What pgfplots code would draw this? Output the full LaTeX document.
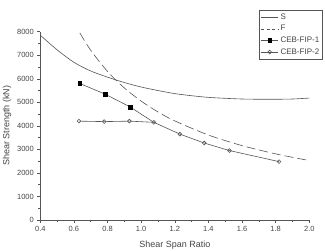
\documentclass[border=0pt]{standalone}
\usepackage{pgfplots}
\pgfplotsset{compat=1.18}
\usepackage{fontspec}
\setmainfont{Liberation Sans}
\definecolor{lc}{HTML}{555555}
\definecolor{tc}{HTML}{444444}
\begin{document}
\begin{tikzpicture}
\useasboundingbox (-40.3pt,-31pt) rectangle (284.7pt,220pt);
\begin{axis}[
  at={(0,0)}, anchor=origin,
  scale only axis, width=269pt, height=188.3pt,
  xmin=0.4, xmax=2.0, ymin=0, ymax=8000,
  axis lines=left, axis line style={-, lc, line width=0.6pt},
  tick align=outside, tick style={lc, line width=0.5pt},
  major tick length=3pt, minor tick length=2pt,
  xtick={0.4,0.6,...,2.0}, minor x tick num=1,
  ytick={0,1000,...,8000}, minor y tick num=1,
  xticklabel style={/pgf/number format/.cd, fixed, fixed zerofill, precision=1},
  yticklabel style={/pgf/number format/.cd, fixed, 1000 sep={}},
  /pgf/number format/assume math mode=true,
  tick label style={font=\fontsize{7.5}{8}\selectfont, text=tc},
  xlabel={Shear Span Ratio}, ylabel={Shear Strength (kN)},
  label style={font=\fontsize{9}{10}\selectfont, text=tc},
  xlabel style={yshift=-2pt},
  ylabel style={yshift=-1pt},
  legend style={at={(axis description cs:1.051,1.115)}, anchor=north east,
    draw=lc, line width=0.6pt, font=\fontsize{8}{9}\selectfont, text=tc,
    inner sep=1.5pt, row sep=0.5pt, cells={anchor=west}},
  clip=false,
]
\addplot[lc, line width=0.6pt, smooth] coordinates {
(0.4,7850)(0.5,7230)(0.6,6700)(0.7,6330)(0.8,6070)(0.9,5840)(1.0,5650)(1.1,5500)(1.2,5370)(1.3,5280)(1.4,5210)(1.5,5170)(1.6,5140)(1.7,5130)(1.8,5130)(1.9,5140)(2.0,5180)};
\addlegendentry{S}
\addplot[lc, line width=0.6pt, smooth, dash pattern=on 9pt off 4pt,
  legend image code/.code={\draw[lc, line width=0.6pt, dash pattern=on 3pt off 2.5pt] (0cm,0cm) -- (0.6cm,0cm);}] coordinates {
(0.635,7950)(0.7,7210)(0.8,6310)(0.9,5610)(1.0,5050)(1.1,4590)(1.2,4210)(1.4,3610)(1.6,3160)(1.8,2810)(2.0,2525)};
\addlegendentry{F}
\addplot[lc, line width=0.6pt, mark=square*, mark size=1.9pt, mark options={black, fill=black, solid}, mark indices={1,2,3},
  legend image code/.code={\draw[lc, line width=0.6pt] (0cm,0cm) -- (0.6cm,0cm);
    \fill[black] (0.3cm,0cm) +(-1.8pt,-1.8pt) rectangle +(1.8pt,1.8pt);}] coordinates {
(0.635,5800)(0.785,5350)(0.935,4800)(1.075,4150)};
\addlegendentry{CEB-FIP-1}
\addplot[lc, line width=0.6pt, mark=o, mark size=1.9pt, mark options={lc, fill=white, solid}] coordinates {
(0.63,4200)(0.78,4180)(0.93,4200)(1.075,4150)(1.23,3650)(1.375,3270)(1.525,2950)(1.82,2480)};
\addlegendentry{CEB-FIP-2}
\end{axis}
\end{tikzpicture}
\end{document}
